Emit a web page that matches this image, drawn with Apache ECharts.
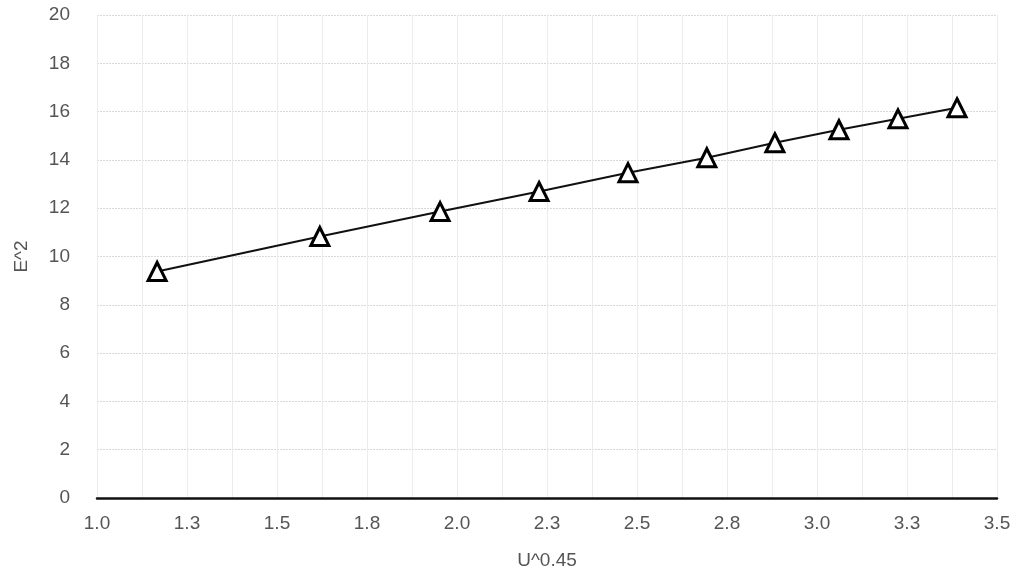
<!DOCTYPE html>
<html>
<head>
<meta charset="utf-8">
<script src="https://cdn.jsdelivr.net/npm/echarts@6/dist/echarts.min.js"></script>
<style>
html,body{margin:0;padding:0;background:#fff;}
#c{width:1018px;height:575px;}
</style>
</head>
<body>
<div id="c"></div>
<script>
const xValues = [1.167, 1.619, 1.953, 2.228, 2.475, 2.694, 2.883, 3.061, 3.225, 3.389];
const yValues = [9.38, 10.83, 11.86, 12.69, 13.47, 14.09, 14.71, 15.25, 15.70, 16.16];
const xAxisTitle = 'U^0.45';
const yAxisTitle = 'E^2';

const chart = echarts.init(document.getElementById('c'));
const font = 'Liberation Sans, Arial, sans-serif';
chart.setOption({
  animation: false,
  backgroundColor: '#fff',
  grid: {left: 97, right: 21, top: 15, bottom: 76},
  xAxis: {
    type: 'value', min: 1.0, max: 3.5, interval: 0.25,
    name: xAxisTitle, nameLocation: 'middle', nameGap: 53,
    nameTextStyle: {color: '#555', fontSize: 19, fontFamily: font},
    axisLine: {show: true, onZero: true, lineStyle: {color: '#111', width: 2.5}},
    axisTick: {show: false},
    axisLabel: {color: '#555', fontSize: 19, fontFamily: font, margin: 16,
      formatter: v => v.toFixed(1)},
    splitLine: {show: true, lineStyle: {color: '#ececec', width: 1}},
    minorTick: {show: false, splitNumber: 2},
    minorSplitLine: {show: true, lineStyle: {color: '#ececec', width: 1}}
  },
  yAxis: {
    type: 'value', min: 0, max: 20, interval: 2,
    name: yAxisTitle, nameLocation: 'middle', nameGap: 66, nameRotate: 90,
    nameTextStyle: {color: '#555', fontSize: 19, fontFamily: font},
    axisLine: {show: false},
    axisTick: {show: false},
    axisLabel: {color: '#555', fontSize: 19, fontFamily: font, margin: 27},
    splitLine: {show: true, lineStyle: {color: '#d8d8d8', width: 1, type: [2, 1]}}
  },
  series: [{
    type: 'line',
    data: xValues.map((x, i) => [x, yValues[i]]),
    symbol: 'triangle',
    symbolSize: 18,
    itemStyle: {color: '#fff', borderColor: '#000', borderWidth: 3},
    lineStyle: {color: '#111', width: 2}
  }]
});
</script>
</body>
</html>
